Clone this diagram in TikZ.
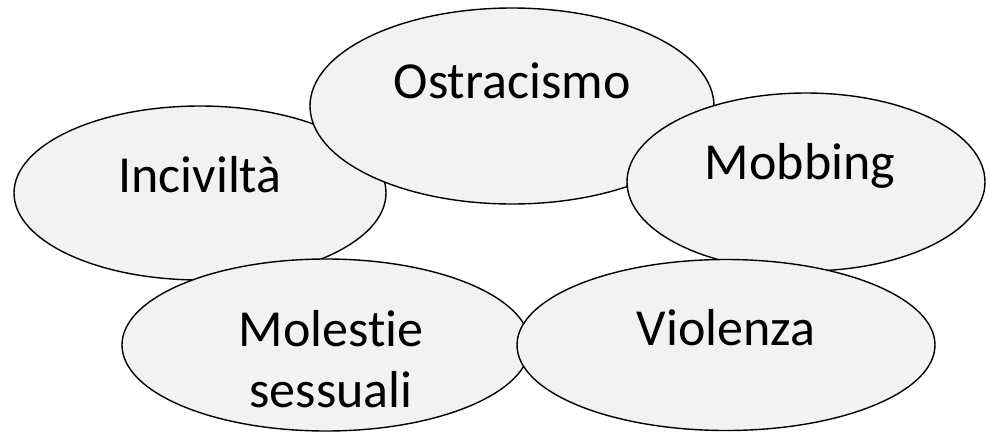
\documentclass[tikz,border=0pt]{standalone}
\usepackage{fontspec}
\setmainfont{Carlito}[Ligatures=NoCommon]
\usetikzlibrary{shapes.geometric}
\tikzset{bubble/.style={ellipse, draw, line width=1.4pt, fill={black!5}, inner sep=0pt}}
\tikzset{lbl/.style={anchor=base, inner sep=0pt, align=center, font=\fontsize{52}{61}\selectfont}}

\begin{document}
\begin{tikzpicture}[x=1pt, y=-1pt]
	\useasboundingbox (0,0) rectangle (986,432);
	
	\node[bubble, minimum width=372pt, minimum height=174pt] (inc) at (200,193){};
	\node[bubble, minimum width=404pt, minimum height=196pt] (ost) at (512,106){};
	\node[bubble, minimum width=358pt, minimum height=178pt] (mob) at (806,182){};
	\node[bubble, minimum width=408pt, minimum height=172pt] (mol) at (326,345){};
	\node[bubble, minimum width=418pt, minimum height=171pt] (vio) at (726,345){};
	
	\node[lbl] (incT) at (200,192){Incivilt\`a};
	\node[lbl] (ostT) at (512,98){Ostracismo};
	\node[lbl] (mobT) at (800,179){Mobbing};
	% two lines: base is the second one
	\node[lbl] (molT) at (331,407){Molestie\\sessuali};
	\node[lbl] (vioT) at (726,345){Violenza};
\end{tikzpicture}
\end{document}
